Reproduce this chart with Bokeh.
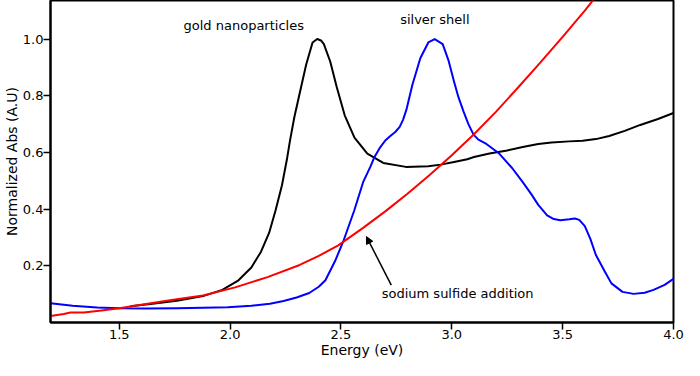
from bokeh.plotting import figure
from bokeh.models import Range1d, Label, Arrow, NormalHead, FixedTicker, PrintfTickFormatter
from bokeh.embed import file_html
from bokeh.resources import INLINE

# gold nanoparticles (black)
gold_x = [1.55, 1.65, 1.76, 1.878, 1.965, 2.038, 2.096, 2.139, 2.176, 2.205, 2.234, 2.256, 2.27, 2.29,
          2.314, 2.343, 2.372, 2.393, 2.41, 2.423, 2.452, 2.481, 2.517, 2.561, 2.619, 2.691, 2.793,
          2.894, 2.95, 3.01, 3.07, 3.10, 3.17, 3.25, 3.32, 3.39, 3.45, 3.53, 3.59, 3.65, 3.71, 3.78,
          3.85, 3.93, 4.0]
gold_y = [0.057, 0.066, 0.077, 0.093, 0.115, 0.149, 0.194, 0.249, 0.316, 0.395, 0.484, 0.574, 0.641, 0.725,
          0.809, 0.909, 0.988, 1.0, 0.995, 0.982, 0.92, 0.831, 0.731, 0.652, 0.596, 0.563, 0.549,
          0.551, 0.557, 0.566, 0.576, 0.584, 0.596, 0.607, 0.619, 0.630, 0.635, 0.639, 0.641, 0.647, 0.658, 0.676,
          0.697, 0.718, 0.739]

# silver shell (blue)
blue_x = [1.19, 1.29, 1.40, 1.50, 1.62, 1.76, 1.878, 1.99, 2.096, 2.18, 2.241, 2.30, 2.357, 2.40, 2.43,
          2.473, 2.51, 2.56, 2.60, 2.633, 2.65, 2.677, 2.70, 2.72, 2.745, 2.765, 2.78, 2.795, 2.822, 2.858,
          2.894, 2.923, 2.959, 2.985, 3.01, 3.03, 3.054, 3.075, 3.098, 3.12, 3.156, 3.214, 3.272, 3.32,
          3.36, 3.39, 3.43, 3.46, 3.49, 3.53, 3.555, 3.575, 3.60, 3.625, 3.65, 3.69, 3.72, 3.77, 3.82,
          3.87, 3.91, 3.96, 4.0]
blue_y = [0.068, 0.059, 0.053, 0.050, 0.049, 0.050, 0.052, 0.054, 0.059, 0.066, 0.076, 0.088, 0.104, 0.126, 0.149,
          0.216, 0.285, 0.395, 0.495, 0.55, 0.582, 0.618, 0.642, 0.656, 0.672, 0.69, 0.715, 0.75, 0.838, 0.932,
          0.988, 1.0, 0.982, 0.925, 0.85, 0.795, 0.742, 0.70, 0.663, 0.645, 0.630, 0.596, 0.545, 0.495,
          0.451, 0.415, 0.378, 0.365, 0.361, 0.364, 0.367, 0.362, 0.34, 0.295, 0.238, 0.18, 0.138, 0.108, 0.101,
          0.105, 0.115, 0.133, 0.154]

# sodium sulfide addition (red)
red_x = [1.19, 1.25, 1.28, 1.34, 1.42, 1.50, 1.60, 1.70, 1.76, 1.878, 2.023, 2.169, 2.314, 2.40,
         2.488, 2.60, 2.70, 2.80, 2.90, 3.00, 3.10, 3.20, 3.30, 3.40, 3.50, 3.60, 3.64]
red_y = [0.023, 0.03, 0.035, 0.035, 0.042, 0.05, 0.063, 0.075, 0.082, 0.095, 0.124, 0.160, 0.203, 0.235,
         0.272, 0.334, 0.392, 0.454, 0.520, 0.590, 0.664, 0.744, 0.830, 0.918, 1.008, 1.100, 1.14]

x_ticks = [1.5, 2.0, 2.5, 3.0, 3.5, 4.0]
y_ticks = [0.2, 0.4, 0.6, 0.8, 1.0]

FONT = "DejaVu Sans"

p = figure(width=684, height=360, output_backend="svg", toolbar_location=None,
           x_range=Range1d(1.19, 4.0), y_range=Range1d(0.0, 1.136),
           min_border_top=0, min_border_right=11, min_border_left=0, min_border_bottom=0)
p.background_fill_color = "white"
p.border_fill_color = "white"
p.outline_line_color = "black"
p.outline_line_width = 2
p.xgrid.visible = False
p.ygrid.visible = False

p.line(gold_x, gold_y, line_color="black", line_width=2, line_join="round")
p.line(blue_x, blue_y, line_color="#0000ff", line_width=2, line_join="round")
p.line(red_x, red_y, line_color="#ff0000", line_width=2, line_join="round")

for ax in (p.xaxis[0], p.yaxis[0]):
    ax.axis_line_color = "black"
    ax.axis_line_width = 2
    ax.major_tick_line_color = "black"
    ax.major_tick_line_width = 1.5
    ax.major_tick_out = 7
    ax.major_tick_in = 0
    ax.minor_tick_line_color = None
    ax.major_label_text_font = FONT
    ax.major_label_text_font_size = "13px"
    ax.major_label_text_color = "black"
    ax.axis_label_text_font = FONT
    ax.axis_label_text_font_size = "14px"
    ax.axis_label_text_font_style = "normal"
    ax.axis_label_text_color = "black"
    ax.major_label_standoff = 0
    ax.axis_label_standoff = 0
    ax.formatter = PrintfTickFormatter(format="%.1f")

p.xaxis[0].ticker = FixedTicker(ticks=x_ticks)
p.yaxis[0].ticker = FixedTicker(ticks=y_ticks)
p.xaxis[0].axis_label = "Energy (eV)"
p.yaxis[0].axis_label = "Normalized Abs (A.U)"

p.add_layout(Label(x=1.79, y=1.021, text="gold nanoparticles", text_font=FONT,
                   text_font_size="13px", text_color="black"))
p.add_layout(Label(x=2.767, y=1.044, text="silver shell", text_font=FONT,
                   text_font_size="13px", text_color="black"))
p.add_layout(Label(x=2.684, y=0.077, text="sodium sulfide addition", text_font=FONT,
                   text_font_size="13px", text_color="black"))
p.add_layout(Arrow(x_start=2.727, y_start=0.132, x_end=2.615, y_end=0.303,
                   line_color="black", line_width=1.5,
                   end=NormalHead(size=7, fill_color="black", line_color="black", line_width=1)))

open("out.html", "w").write(file_html(p, INLINE))
